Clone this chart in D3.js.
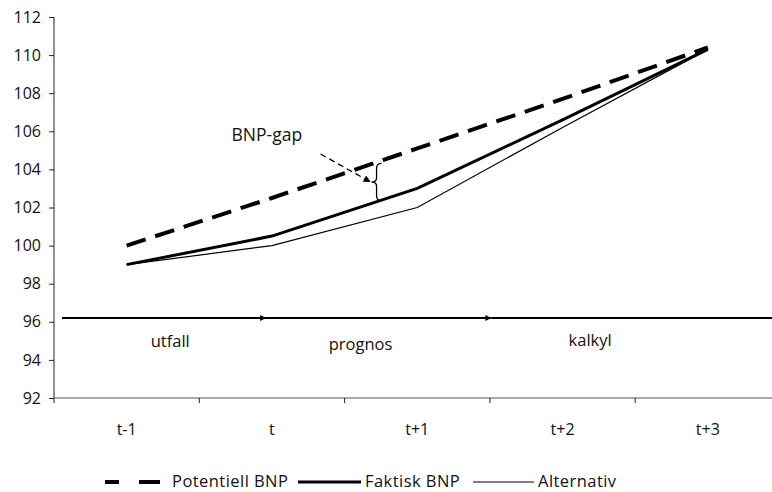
<!DOCTYPE html>
<html>
<head>
<meta charset="utf-8">
<script src="https://cdn.jsdelivr.net/npm/d3@7"></script>
<style>
  html, body { margin: 0; padding: 0; background: #fff; }
  svg { display: block; }
  text { font-family: "Open Sans", "Noto Sans", sans-serif; fill: #111; }
</style>
</head>
<body>
<svg id="chart" width="772" height="492"></svg>
<script>
// Periods on the x axis
const periods = ["t-1", "t", "t+1", "t+2", "t+3"];
// Series values (index, t-1 = 100)
const potentiell = [100, 102.5, 105.1, 107.7, 110.4];
const faktisk    = [99, 100.5, 103, 106.6, 110.3];
const alternativ = [99, 100, 102, 106.2, 110.3];
// Y axis ticks
const yTicks = [92, 94, 96, 98, 100, 102, 104, 106, 108, 110, 112];
// Phase band along the timeline (start, end in period index units) and its labels
const phaseLevel = 96.2;
const phaseSegments = [[-0.445, 0.96], [0.96, 2.51], [2.51, 4.45]];
const phaseLabels = [
  { text: "utfall",  at: 0.30, level: 94.70 },
  { text: "prognos", at: 1.61, level: 94.52 },
  { text: "kalkyl",  at: 3.19, level: 94.73 }
];
const legendItems = ["Potentiell BNP", "Faktisk BNP", "Alternativ"];

const svg = d3.select("#chart");
const mLeft = 54, mTop = 17, mBottom = 398, bandW = 145.3;

const y = d3.scaleLinear().domain([92, 112]).range([mBottom, mTop]);
const xBand = d3.scaleBand().domain(periods).range([mLeft, mLeft + bandW * periods.length]);
// continuous position along period index (0 = t-1 centre)
const xi = d3.scaleLinear().domain([0, 1]).range([mLeft + bandW / 2, mLeft + bandW * 1.5]);

// Y axis
const yAxis = svg.append("g")
  .attr("transform", `translate(${mLeft},0)`)
  .call(d3.axisLeft(y).tickValues(yTicks).tickSize(5).tickPadding(8));
yAxis.select(".domain").attr("stroke", "#222").attr("d", `M0,${mTop}V${mBottom + 5}`);
yAxis.selectAll(".tick line").attr("stroke", "#222");
yAxis.selectAll(".tick text").style("font-size", "16px").attr("fill", "#111");

// X axis
const xAxis = svg.append("g")
  .attr("transform", `translate(0,${mBottom})`)
  .call(d3.axisBottom(xBand).tickSize(0).tickPadding(26));
xAxis.select(".domain").attr("stroke", "#555").attr("d", `M${mLeft},0H772`);
xAxis.selectAll(".tick text").style("font-size", "16px").attr("fill", "#111");
// tick marks at band boundaries
svg.append("g").selectAll("line")
  .data(periods.slice(1))
  .join("line")
  .attr("x1", d => xBand(d)).attr("x2", d => xBand(d))
  .attr("y1", mBottom).attr("y2", mBottom + 5)
  .attr("stroke", "#222");

// Series lines
const line = d3.line().x((d, i) => xi(i)).y(d => y(d));
svg.append("path").datum(alternativ)
  .attr("d", line).attr("fill", "none").attr("stroke", "#000").attr("stroke-width", 1.2);
svg.append("path").datum(faktisk)
  .attr("d", line).attr("fill", "none").attr("stroke", "#000").attr("stroke-width", 3);
svg.append("path").datum(potentiell)
  .attr("d", line).attr("fill", "none").attr("stroke", "#000").attr("stroke-width", 4)
  .attr("stroke-dasharray", "20,10");

// Arrow markers
const defs = svg.append("defs");
defs.append("marker").attr("id", "tri")
  .attr("viewBox", "0 0 10 10").attr("refX", 10).attr("refY", 5)
  .attr("markerWidth", 8).attr("markerHeight", 6).attr("markerUnits", "userSpaceOnUse")
  .attr("orient", "auto")
  .append("path").attr("d", "M0,0L10,5L0,10Z").attr("fill", "#000");
defs.append("marker").attr("id", "tri2")
  .attr("viewBox", "0 0 10 10").attr("refX", 10).attr("refY", 5)
  .attr("markerWidth", 9).attr("markerHeight", 7).attr("markerUnits", "userSpaceOnUse")
  .attr("orient", "auto")
  .append("path").attr("d", "M0,0L10,5L0,10Z").attr("fill", "#000");

// Timeline with phase arrows
svg.append("g").selectAll("line")
  .data(phaseSegments)
  .join("line")
  .attr("x1", d => xi(d[0])).attr("x2", d => Math.min(xi(d[1]), 772))
  .attr("y1", y(phaseLevel)).attr("y2", y(phaseLevel))
  .attr("stroke", "#000").attr("stroke-width", 2)
  .attr("marker-end", (d, i) => i < phaseSegments.length - 1 ? "url(#tri)" : null);

svg.append("g").selectAll("text")
  .data(phaseLabels)
  .join("text")
  .attr("x", d => xi(d.at)).attr("y", d => y(d.level))
  .attr("text-anchor", "middle")
  .style("font-size", "16.5px")
  .text(d => d.text);

// Gap annotation: brace between potential and actual output
const gapAt = 1.72;
const interp = (arr, p) => {
  const i = Math.floor(p), f = p - i;
  return arr[i] + (arr[i + 1] - arr[i]) * f;
};
const bx = xi(gapAt);
const bTop = y(interp(potentiell, gapAt)) + 1;
const bBot = y(interp(faktisk, gapAt)) - 1;
const bMid = (bTop + bBot) / 2;
const brace = d3.path();
brace.moveTo(bx + 5, bTop);
brace.quadraticCurveTo(bx, bTop, bx, bTop + 5);
brace.lineTo(bx, bMid - 4);
brace.quadraticCurveTo(bx, bMid, bx - 5, bMid);
brace.quadraticCurveTo(bx, bMid, bx, bMid + 4);
brace.lineTo(bx, bBot - 5);
brace.quadraticCurveTo(bx, bBot, bx + 5, bBot);
svg.append("path").attr("d", brace.toString())
  .attr("fill", "none").attr("stroke", "#000").attr("stroke-width", 1.3);

svg.append("line")
  .attr("x1", bx - 56).attr("y1", bMid - 28)
  .attr("x2", bx - 6).attr("y2", bMid)
  .attr("stroke", "#000").attr("stroke-width", 1.3)
  .attr("stroke-dasharray", "6,4")
  .attr("marker-end", "url(#tri2)");

svg.append("text")
  .attr("x", bx - 145).attr("y", bMid - 41)
  .style("font-size", "17.5px")
  .text("BNP-gap");

// Legend
const legend = svg.append("g").style("font-size", "16.5px").style("letter-spacing", "0.45px");
const ly = 482;
legend.append("line").attr("x1", 105).attr("x2", 160).attr("y1", ly).attr("y2", ly)
  .attr("stroke", "#000").attr("stroke-width", 4).attr("stroke-dasharray", "14,20,21");
legend.append("text").attr("x", 172).attr("y", ly + 5).text(legendItems[0]);
legend.append("line").attr("x1", 298).attr("x2", 361).attr("y1", ly).attr("y2", ly)
  .attr("stroke", "#000").attr("stroke-width", 3);
legend.append("text").attr("x", 365).attr("y", ly + 5).text(legendItems[1]);
legend.append("line").attr("x1", 473).attr("x2", 534).attr("y1", ly).attr("y2", ly)
  .attr("stroke", "#000").attr("stroke-width", 1.2);
legend.append("text").attr("x", 538).attr("y", ly + 5).text(legendItems[2]);
</script>
</body>
</html>
